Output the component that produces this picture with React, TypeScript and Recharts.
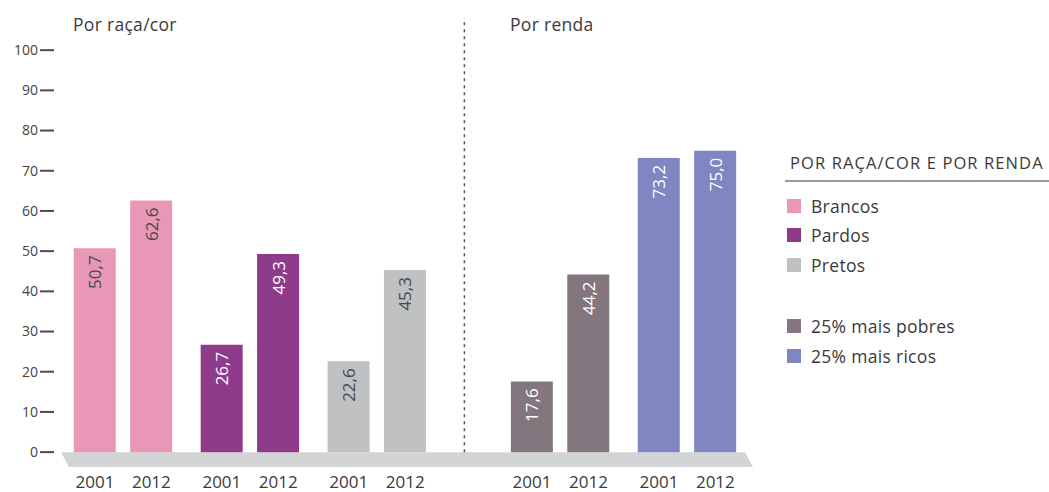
import {
  BarChart,
  Bar,
  XAxis,
  YAxis,
  Cell,
  LabelList,
  Legend,
  ReferenceArea,
  ReferenceLine,
} from "recharts";

const groups = ["Brancos", "Pardos", "Pretos", "25% mais pobres", "25% mais ricos"];
const years = ["2001", "2012"];
const values2001 = [50.7, 26.7, 22.6, 17.6, 73.2];
const values2012 = [62.6, 49.3, 45.3, 44.2, 75.0];
const yTicks = [0, 10, 20, 30, 40, 50, 60, 70, 80, 90, 100];

const groupColors = ["#e898b6", "#8e3b8c", "#c0c1c3", "#84767e", "#7f86c2"];
const labelColors = ["#4a4a4a", "#ffffff", "#4a4a4a", "#ffffff", "#ffffff"];

// layout: slot index of each group's first bar on the x axis, 4 slots between years
const groupSlots = [0, 9, 18, 31, 40];
const yearStep = 4;
const dividerSlot = 26.2;

const rows = groups.flatMap((g, gi) =>
  years.map((year, yi) => ({
    pos: groupSlots[gi] + yi * yearStep,
    year,
    group: gi,
    value: yi === 0 ? values2001[gi] : values2012[gi],
  }))
);

const fmt = (v: number) => v.toFixed(1).replace(".", ",");

const YTick = (props: any) => {
  const { x, y, payload } = props;
  return (
    <g>
      <line x1={x - 21} x2={x - 7} y1={y} y2={y} stroke="#4d4d4d" strokeWidth={2} />
      <text x={x - 23} y={y} dy="0.35em" textAnchor="end" fontSize={14} fill="#444">
        {payload.value}
      </text>
    </g>
  );
};

const XTick = (props: any) => {
  const { x, y, payload } = props;
  const year = rows.find((r) => r.pos === payload.value)?.year ?? "";
  return (
    <text x={x} y={y + 21} textAnchor="middle" fontSize={17} fill="#3a3a3a">
      {year}
    </text>
  );
};

const ValueLabel = (props: any) => {
  const { x, y, width, value, index } = props;
  if (value == null) return null;
  const cx = x + width / 2;
  const ty = y + 7;
  return (
    <text
      x={cx}
      y={ty}
      transform={`rotate(-90, ${cx}, ${ty})`}
      textAnchor="end"
      dominantBaseline="central"
      fontSize={17}
      fill={labelColors[rows[index].group]}
    >
      {fmt(value)}
    </text>
  );
};

const Base = (props: any) => {
  const { x, y, width, height } = props;
  const s = 8;
  return (
    <polygon
      points={`${x},${y} ${x + width - s},${y} ${x + width},${y + height} ${x + s},${y + height}`}
      fill="#d3d4d5"
    />
  );
};

const LegendBox = () => (
  <div style={{ color: "#3a3a3a" }}>
    <div
      style={{
        fontSize: 16.5,
        letterSpacing: 1.1,
        paddingLeft: 5,
        paddingBottom: 4,
        borderBottom: "2px solid #9a9a9a",
        lineHeight: "26px",
        whiteSpace: "nowrap",
      }}
    >
      POR RAÇA/COR E POR RENDA
    </div>
    <div style={{ marginTop: 9 }}>
      {groups.map((g, i) => (
        <div
          key={g}
          style={{
            display: "flex",
            alignItems: "center",
            height: 29.5,
            marginTop: i === 3 ? 32 : 0,
            paddingLeft: 2,
            fontSize: 17.5,
            letterSpacing: 0.3,
          }}
        >
          <span
            style={{
              width: 14,
              height: 14,
              background: groupColors[i],
              display: "inline-block",
              marginRight: 10,
            }}
          />
          {g}
        </div>
      ))}
    </div>
  </div>
);

const titleStyle = {
  position: "absolute" as const,
  top: 12,
  fontSize: 17.5,
  letterSpacing: 0.3,
  color: "#3a3a3a",
};

export default function App() {
  return (
    <div
      style={{
        position: "absolute",
        left: 0,
        top: 0,
        width: 1049,
        height: 492,
        fontFamily: "'Open Sans', sans-serif",
        background: "#fff",
      }}
    >
      <div style={{ ...titleStyle, left: 73 }}>Por raça/cor</div>
      <div style={{ ...titleStyle, left: 510 }}>Por renda</div>
      <BarChart
        width={1049}
        height={492}
        data={rows}
        margin={{ top: 18, right: 296, bottom: 0, left: 0 }}
      >
        <XAxis
          type="number"
          dataKey="pos"
          domain={[-2.41, 46.67]}
          ticks={rows.map((r) => r.pos)}
          interval={0}
          axisLine={false}
          tickLine={false}
          tickSize={0}
          tickMargin={0}
          height={25}
          tick={<XTick />}
        />
        <YAxis
          width={61}
          domain={[-3.7, 108]}
          ticks={yTicks}
          interval={0}
          axisLine={false}
          tickLine={false}
          tickSize={0}
          tickMargin={0}
          tick={<YTick />}
        />
        <ReferenceArea y1={-3.7} y2={0} shape={<Base />} ifOverflow="visible" />
        <ReferenceLine
          segment={[
            { x: dividerSlot, y: 0 },
            { x: dividerSlot, y: 108 },
          ]}
          stroke="#555"
          strokeWidth={1.5}
          strokeDasharray="3 4"
        />
        <Bar dataKey="value" barSize={42} isAnimationActive={false}>
          {rows.map((r, i) => (
            <Cell key={i} fill={groupColors[r.group]} />
          ))}
          <LabelList dataKey="value" content={<ValueLabel />} />
        </Bar>
        <Legend
          layout="vertical"
          align="center"
          verticalAlign="middle"
          wrapperStyle={{ position: "absolute", left: 785, top: 150, width: 264 }}
          content={<LegendBox />}
        />
      </BarChart>
    </div>
  );
}
